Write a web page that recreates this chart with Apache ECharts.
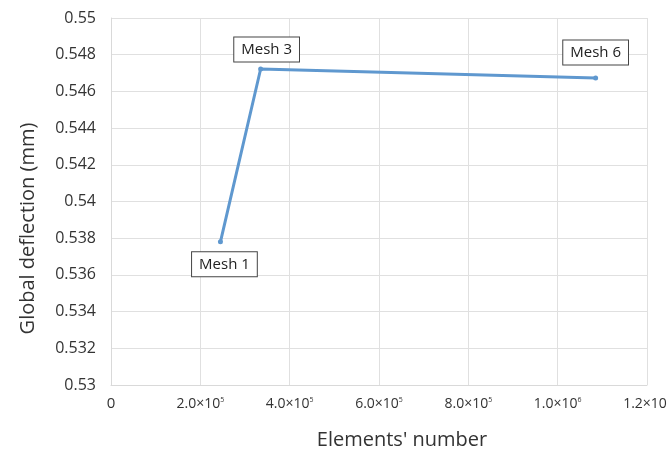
<!DOCTYPE html>
<html><head><meta charset="utf-8">
<script src="https://cdn.jsdelivr.net/npm/echarts@6/dist/echarts.min.js"></script>
<style>html,body{margin:0;padding:0;background:#fff}#c{width:667px;height:450px}</style>
</head><body><div id="c"></div>
<script>
const meshNames = ['Mesh 1', 'Mesh 3', 'Mesh 6'];
const elements = [245000, 335000, 1085000];
const deflection = [0.5378, 0.54722, 0.54673];
const xTicks = [0, 200000, 400000, 600000, 800000, 1000000, 1200000];
const yMin = 0.53, yMax = 0.55, yStep = 0.002;

const labelPos = {
  'Mesh 1': {position: 'bottom', distance: 8, offset: [4, 0]},
  'Mesh 3': {position: 'top', distance: 5, offset: [6, 0]},
  'Mesh 6': {position: 'top', distance: 11, offset: [0, 0]}
};

const data = elements.map((x, i) => ({
  value: [x, deflection[i]],
  name: meshNames[i],
  label: Object.assign({
    show: true,
    formatter: meshNames[i],
    color: '#222',
    fontSize: 15,
    fontFamily: 'Open Sans',
    backgroundColor: '#fff',
    borderColor: '#444',
    borderWidth: 1,
    padding: [5, 7, 4, 7]
  }, labelPos[meshNames[i]])
}));

const chart = echarts.init(document.getElementById('c'));
chart.setOption({
  animation: false,
  grid: {left: 111, right: 20, top: 18, bottom: 65, containLabel: false, outerBoundsMode: 'none'},
  xAxis: {
    type: 'value', min: 0, max: 1200000, interval: 200000,
    name: "Elements' number", nameLocation: 'middle', nameGap: 45,
    nameTextStyle: {fontSize: 20, fontFamily: 'Open Sans', color: '#333', padding: [0, 0, 0, 46]},
    axisLine: {show: true, lineStyle: {color: '#d9d9d9'}},
    axisTick: {show: false},
    splitLine: {show: true, lineStyle: {color: '#e0e0e0'}},
    axisLabel: {
      margin: 11, color: '#333', fontFamily: 'Open Sans', fontSize: 14,
      formatter: function (v) {
        if (v === 0) return '{z|0}';
        const e = Math.floor(Math.log10(v) + 1e-9);
        const m = (v / Math.pow(10, e)).toFixed(1);
        return '{m|' + m + '×10}{s|' + e + '}';
      },
      rich: {
        z: {fontSize: 15, fontFamily: 'Open Sans', color: '#333'},
        m: {fontSize: 14, fontFamily: 'Open Sans', color: '#333'},
        s: {fontSize: 7, fontFamily: 'Open Sans', color: '#333', verticalAlign: 'top', padding: [0, 0, 9, 0]}
      }
    }
  },
  yAxis: {
    type: 'value', min: yMin, max: yMax, interval: yStep,
    name: 'Global deflection (mm)', nameLocation: 'middle', nameGap: 73,
    nameTextStyle: {fontSize: 20, fontFamily: 'Open Sans', color: '#333', padding: [0, 54, 0, 0]},
    axisLine: {show: true, lineStyle: {color: '#d9d9d9'}},
    axisTick: {show: false},
    splitLine: {show: true, lineStyle: {color: '#e0e0e0'}},
    axisLabel: {
      margin: 15, color: '#333', fontFamily: 'Open Sans', fontSize: 16,
      formatter: v => String(parseFloat(v.toFixed(3)))
    }
  },
  series: [{
    type: 'line',
    data: data,
    symbol: 'circle', symbolSize: 5,
    lineStyle: {color: '#5f98cf', width: 3},
    itemStyle: {color: '#5f98cf'}
  }]
});
</script>
</body></html>
